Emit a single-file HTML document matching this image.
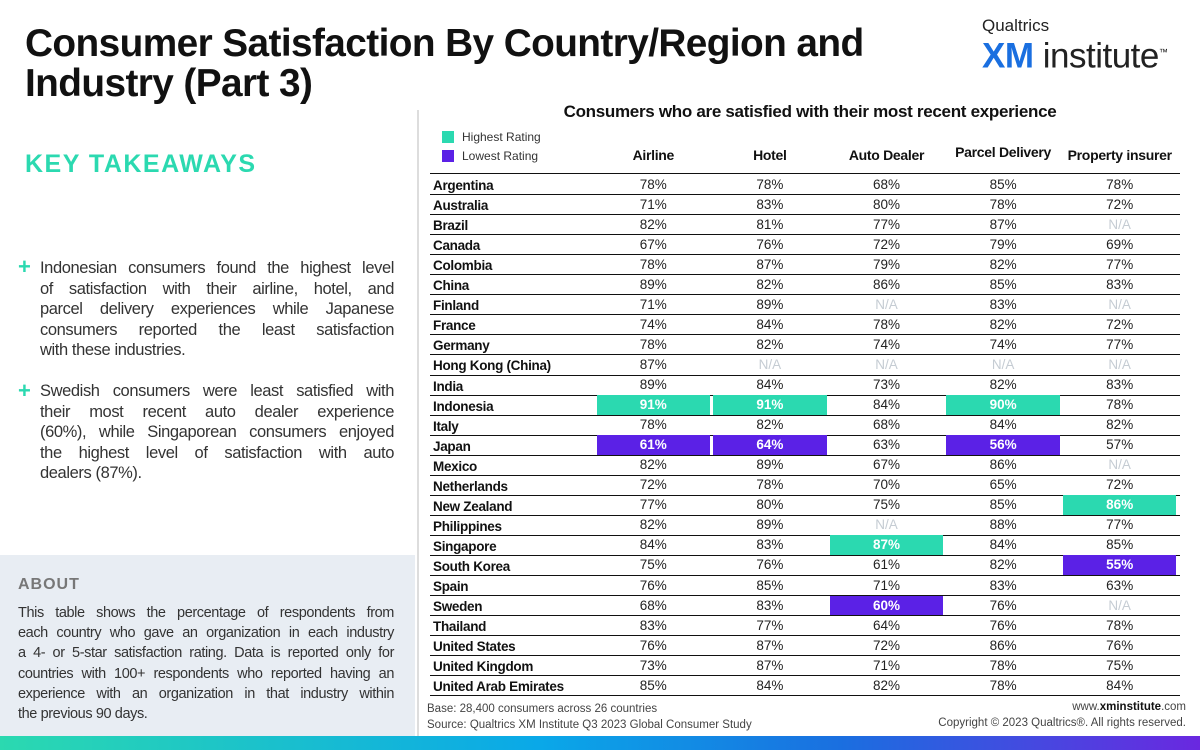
<!DOCTYPE html>
<html><head><meta charset="utf-8"><style>
body{margin:0;width:1200px;height:750px;position:relative;overflow:hidden;background:#fff;font-family:"Liberation Sans",sans-serif;color:#111}
.abs{position:absolute}
h1{position:absolute;left:25px;top:24px;margin:0;font-size:38.8px;line-height:40px;font-weight:bold;letter-spacing:-0.6px;width:900px}
.kt{left:25px;top:150px;font-size:25px;font-weight:bold;color:#2bd9b0;letter-spacing:1.5px}
.tk{left:40px;width:354px;font-size:16.5px;line-height:20.5px;color:#333;letter-spacing:-0.4px}
.tk div,.ab div{text-align:justify;text-align-last:justify;white-space:nowrap}
.tk div.last,.ab div.last{text-align-last:left}
.plus{left:18px;color:#2bd9b0;font-size:22px;font-weight:bold}
.about{left:0;top:555px;width:415px;height:181px;background:#e8edf3}
.ab{position:absolute;left:18px;top:48px;width:376px;font-size:14.5px;line-height:20.2px;color:#333;letter-spacing:-0.4px}
.cell{position:absolute;height:20px;line-height:20px;font-size:13.5px;text-align:center;color:#222}
.row-l{position:absolute;left:433px;font-size:13.5px;font-weight:bold;line-height:20px;height:20px;letter-spacing:-0.3px}
.hl{color:#fff !important;font-weight:bold}
.line{position:absolute;left:430px;width:750px;height:1px;background:#111}
.hdr{position:absolute;font-size:14px;font-weight:bold;text-align:center;letter-spacing:-0.3px}
</style></head><body>
<h1>Consumer Satisfaction By Country/Region and Industry (Part 3)</h1>
<div class="abs" style="left:982px;top:16px;width:215px">
<div style="font-size:17px;color:#222">Qualtrics</div>
<div style="font-size:35px;line-height:32px;letter-spacing:-0.5px"><b style="color:#1a6fe0">XM</b><span style="color:#222"> institute</span><sup style="font-size:9px">™</sup></div></div>
<div class="abs kt">KEY TAKEAWAYS</div>
<div class="abs plus" style="top:254px">+</div>
<div class="abs tk" style="top:258px"><div>Indonesian consumers found the highest level</div><div>of satisfaction with their airline, hotel, and</div><div>parcel delivery experiences while Japanese</div><div>consumers reported the least satisfaction</div><div class="last">with these industries.</div></div>
<div class="abs plus" style="top:378px">+</div>
<div class="abs tk" style="top:381px"><div>Swedish consumers were least satisfied with</div><div>their most recent auto dealer experience</div><div>(60%), while Singaporean consumers enjoyed</div><div>the highest level of satisfaction with auto</div><div class="last">dealers (87%).</div></div>
<div class="abs about">
<div style="position:absolute;left:18px;top:21px;font-size:16px;font-weight:bold;color:#777;letter-spacing:1px">ABOUT</div>
<div class="ab"><div>This table shows the percentage of respondents from</div><div>each country who gave an organization in each industry</div><div>a 4- or 5-star satisfaction rating. Data is reported only for</div><div>countries with 100+ respondents who reported having an</div><div>experience with an organization in that industry within</div><div class="last">the previous 90 days.</div></div></div>
<div class="abs" style="left:417px;top:110px;width:2px;height:626px;background:#ddd"></div>
<div class="abs" style="left:420px;top:102px;width:780px;text-align:center;font-size:17px;font-weight:bold;letter-spacing:-0.3px">Consumers who are satisfied with their most recent experience</div>
<div class="abs" style="left:442px;top:131px;width:12px;height:12px;background:#2bd9b0"></div>
<div class="abs" style="left:462px;top:130px;font-size:12px;color:#333">Highest Rating</div>
<div class="abs" style="left:442px;top:150px;width:12px;height:12px;background:#5b21e6"></div>
<div class="abs" style="left:462px;top:149px;font-size:12px;color:#333">Lowest Rating</div>
<div id="tbl"></div>
<div class="abs" style="left:427px;top:701px;font-size:11.5px;color:#444;line-height:16px">Base: 28,400 consumers across 26 countries<br>Source: Qualtrics XM Institute Q3 2023 Global Consumer Study</div>
<div class="abs" style="right:14px;top:699px;font-size:11.5px;color:#444;line-height:16px;text-align:right">www.<b style="color:#111">xminstitute</b>.com<br>Copyright © 2023 Qualtrics®. All rights reserved.</div>
<div class="abs" style="left:0;top:736px;width:1200px;height:14px;background:linear-gradient(90deg,#2bd9b0,#0aa8e8 45%,#1a6fe0 70%,#6a28e0)"></div>
<script>
const industries=["Airline","Hotel","Auto Dealer","Parcel Delivery","Property insurer"];
const countries=["Argentina","Australia","Brazil","Canada","Colombia","China","Finland","France","Germany","Hong Kong (China)","India","Indonesia","Italy","Japan","Mexico","Netherlands","New Zealand","Philippines","Singapore","South Korea","Spain","Sweden","Thailand","United States","United Kingdom","United Arab Emirates"];
const airline=[78,71,82,67,78,89,71,74,78,87,89,91,78,61,82,72,77,82,84,75,76,68,83,76,73,85];
const hotel=[78,83,81,76,87,82,89,84,82,null,84,91,82,64,89,78,80,89,83,76,85,83,77,87,87,84];
const autoDealer=[68,80,77,72,79,86,null,78,74,null,73,84,68,63,67,70,75,null,87,61,71,60,64,72,71,82];
const parcel=[85,78,87,79,82,85,83,82,74,null,82,90,84,56,86,65,85,88,84,82,83,76,76,86,78,78];
const property=[78,72,null,69,77,83,null,72,77,null,83,78,82,57,null,72,86,77,85,55,63,null,78,76,75,84];
const highest=[[11,0],[11,1],[18,2],[11,3],[16,4]];
const lowest=[[13,0],[13,1],[21,2],[13,3],[19,4]];
const series=[airline,hotel,autoDealer,parcel,property];
const colX0=595,colW=116.6,top0=174,rowH=20.05;
const t=document.getElementById('tbl');
const colX=j=>colX0+j*colW;
const rowY=i=>top0+i*rowH;
industries.forEach((h,j)=>{const d=document.createElement('div');d.className='hdr';


d.style.left=colX(j)+'px';d.style.width=colW+'px';d.style.top=(j==3?144:147)+'px';d.textContent=h;t.appendChild(d);});
const l0=document.createElement('div');l0.className='line';l0.style.top=(top0-1)+'px';

t.appendChild(l0);
countries.forEach((c,i)=>{
 const lb=document.createElement('div');lb.className='row-l';lb.style.top=(rowY(i)+2)+'px';lb.textContent=c;
 
 t.appendChild(lb);
 series.forEach((s,j)=>{const v=s[i];const d=document.createElement('div');d.className='cell';
  
  
  d.style.left=(colX(j)+1.5)+'px';d.style.width=(colW-3)+'px';d.style.top=(rowY(i)+0.5)+'px';
  const hi=highest.some(p=>p[0]==i&&p[1]==j),lo=lowest.some(p=>p[0]==i&&p[1]==j);
  if(hi){d.style.background='#2bd9b0';d.classList.add('hl');}
  if(lo){d.style.background='#5b21e6';d.classList.add('hl');}
  if(v==null){d.textContent='N/A';d.style.color='#c5ccd3';}else d.textContent=v+'%';
  t.appendChild(d);});
 const ln=document.createElement('div');ln.className='line';ln.style.top=(rowY(i+1))+'px';
 
 t.appendChild(ln);
});
</script>
</body></html>
